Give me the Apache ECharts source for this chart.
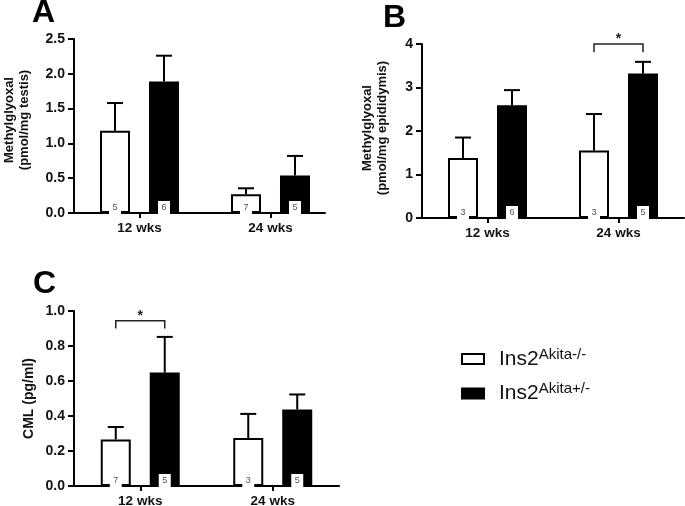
<!DOCTYPE html>
<html>
<head>
<meta charset="utf-8">
<script src="https://cdn.jsdelivr.net/npm/echarts@6/dist/echarts.min.js"></script>
<style>
html,body{margin:0;padding:0;background:#fff;}
#chart{width:685px;height:506px;}
</style>
</head>
<body>
<div id="chart"></div>
<script>
// ---------- data ----------
const categories = ['12 wks', '24 wks'];
const groupNames = ['Ins2 Akita-/-', 'Ins2 Akita+/-'];
const legendBase = ['Ins2', 'Ins2'];
const legendSup = ['Akita-/-', 'Akita+/-'];

// Panel A: Methylglyoxal (pmol/mg testis)
const aWT = [1.18, 0.27];
const aWTUpper = [1.58, 0.355];
const aAk = [1.89, 0.54];
const aAkUpper = [2.26, 0.82];
const aWTn = [5, 7];
const aAkn = [6, 5];

// Panel B: Methylglyoxal (pmol/mg epididymis)
const bWT = [1.38, 1.55];
const bWTUpper = [1.85, 2.39];
const bAk = [2.59, 3.32];
const bAkUpper = [2.94, 3.59];
const bWTn = [3, 3];
const bAkn = [6, 5];

// Panel C: CML (pg/ml)
const cWT = [0.266, 0.274];
const cWTUpper = [0.337, 0.412];
const cAk = [0.648, 0.437];
const cAkUpper = [0.852, 0.523];
const cWTn = [7, 3];
const cAkn = [5, 5];

// significance brackets: [category index, bracket level, drop level]
const sigB = [[1, 4.0, 3.81]];
const sigC = [[0, 0.945, 0.90]];

// axis ranges
const yRangeA = [0, 2.5, 0.5];
const yRangeB = [0, 4, 1];
const yRangeC = [0, 1.0, 0.2];

// ---------- style ----------
const FONT = 'Liberation Sans, Arial, sans-serif';
const BAR_W = 30;
const BAR_GAP = 0.633;
const HALF = BAR_W * (1 + BAR_GAP) / 2;
const CAP = 16;

const chart = echarts.init(document.getElementById('chart'), null, {renderer: 'canvas'});

function yAxis(gridIndex, range, decimals, name, nameGap, nameSize, namePad) {
  return {
    type: 'value', gridIndex: gridIndex, min: range[0], max: range[1], interval: range[2],
    name: name, nameLocation: 'middle', nameGap: nameGap,
    nameTextStyle: {fontWeight: 'bold', fontSize: nameSize, lineHeight: 15, color: '#111', fontFamily: FONT, padding: namePad},
    axisLine: {show: true, lineStyle: {color: '#000', width: 2}},
    axisTick: {show: true, length: 6, lineStyle: {color: '#000', width: 2}},
    axisLabel: {fontWeight: 'bold', fontSize: 14, color: '#111', margin: 9, fontFamily: FONT,
      formatter: v => v.toFixed(decimals)},
    splitLine: {show: false}
  };
}
function xAxis(gridIndex, showLine) {
  return {
    type: 'category', gridIndex: gridIndex, data: categories,
    axisLine: {show: showLine, lineStyle: {color: '#000', width: 2}},
    axisTick: {show: true, alignWithLabel: true, length: 5, lineStyle: {color: '#000', width: 2}},
    axisLabel: {fontWeight: 'bold', fontSize: 13.5, color: '#111', margin: 8, fontFamily: FONT},
    splitLine: {show: false}
  };
}
function barSeries(gridIndex, gi, values, ns) {
  return {
    type: 'bar', name: groupNames[gi], xAxisIndex: gridIndex, yAxisIndex: gridIndex,
    data: values, barWidth: BAR_W, barGap: (BAR_GAP * 100) + '%',
    itemStyle: {color: gi === 0 ? '#fff' : '#000', borderColor: '#000', borderWidth: 2},
    label: {show: true, position: 'insideBottom', distance: -1,
      formatter: p => String(ns[p.dataIndex]),
      backgroundColor: '#fff', width: 8, height: 10, padding: [2, 2, 1, 2], align: 'center',
      fontSize: 9, lineHeight: 10, color: '#555', fontFamily: FONT},
    emphasis: {disabled: true}, silent: true, z: 2
  };
}
function errSeries(gridIndex, wtMean, wtUp, akMean, akUp) {
  const data = [];
  for (let i = 0; i < categories.length; i++) {
    data.push([i, wtMean[i], wtUp[i], 0]);
    data.push([i, akMean[i], akUp[i], 1]);
  }
  return {
    type: 'custom', xAxisIndex: gridIndex, yAxisIndex: gridIndex, data: data, silent: true, z: 3,
    encode: {x: 0, y: [1, 2]},
    renderItem: function (params, api) {
      const x = api.coord([api.value(0), 0])[0] + (api.value(3) ? 1 : -1) * HALF;
      const y0 = api.coord([api.value(0), api.value(1)])[1];
      const y1 = api.coord([api.value(0), api.value(2)])[1];
      const st = {stroke: '#000', lineWidth: 2};
      return {type: 'group', children: [
        {type: 'line', shape: {x1: x, y1: y0, x2: x, y2: y1}, style: st},
        {type: 'line', shape: {x1: x - CAP / 2, y1: y1, x2: x + CAP / 2, y2: y1}, style: st}
      ]};
    }
  };
}
function sigSeries(gridIndex, sig) {
  return {
    type: 'custom', xAxisIndex: gridIndex, yAxisIndex: gridIndex, data: sig, silent: true, z: 4,
    encode: {x: 0, y: [1, 2]},
    renderItem: function (params, api) {
      const cx = api.coord([api.value(0), 0])[0];
      const yt = api.coord([api.value(0), api.value(1)])[1];
      const yd = api.coord([api.value(0), api.value(2)])[1];
      return {type: 'group', children: [
        {type: 'polyline', shape: {points: [[cx - HALF, yd], [cx - HALF, yt], [cx + HALF, yt], [cx + HALF, yd]]},
          style: {stroke: '#222', lineWidth: 1.5, fill: null}},
        {type: 'text', style: {text: '*', x: cx, y: yt - 4.5, align: 'center', verticalAlign: 'middle',
          fontSize: 14, fontWeight: 'bold', fontFamily: FONT, fill: '#222'}}
      ]};
    }
  };
}

const option = {
  animation: false,
  textStyle: {fontFamily: FONT},
  grid: [
    {left: 74, top: 39, width: 262, height: 174, outerBoundsMode: 'none'},
    {left: 422, top: 44, width: 262, height: 174, outerBoundsMode: 'none'},
    {left: 74, top: 311, width: 265, height: 175, outerBoundsMode: 'none'},
    {left: 74, top: 39, width: 251, height: 174, outerBoundsMode: 'none'}
  ],
  xAxis: [
    xAxis(0, false),
    xAxis(1, true),
    xAxis(2, true),
    {type: 'value', gridIndex: 3, min: 0, max: 1,
      axisLine: {show: true, lineStyle: {color: '#000', width: 2}},
      axisTick: {show: false}, axisLabel: {show: false}, splitLine: {show: false}}
  ],
  yAxis: [
    yAxis(0, yRangeA, 1, 'Methylglyoxal\n(pmol/mg testis)', 42, 13, [0, 0, 0, 12]),
    yAxis(1, yRangeB, 0, 'Methylglyoxal\n(pmol/mg epididymis)', 32, 13, [0, 0, 0, 6]),
    yAxis(2, yRangeC, 1, 'CML (pg/ml)', 37, 14, 0),
    {type: 'value', gridIndex: 3, show: false, min: 0, max: 1}
  ],
  legend: {
    orient: 'vertical', left: 461, top: 347, padding: 0, itemGap: 12,
    itemWidth: 22, itemHeight: 10, icon: 'rect', selectedMode: false,
    data: [
      {name: groupNames[0], itemStyle: {color: '#fff', borderColor: '#000', borderWidth: 2}},
      {name: groupNames[1], itemStyle: {color: '#000', borderColor: '#000', borderWidth: 2}}
    ],
    formatter: function (name) {
      const i = groupNames.indexOf(name);
      return '{a|' + legendBase[i] + '}{b|' + legendSup[i] + '}';
    },
    textStyle: {
      padding: [0, 0, 0, 10],
      rich: {
        a: {fontSize: 21, lineHeight: 24, color: '#111', fontFamily: FONT},
        b: {fontSize: 15, lineHeight: 15, verticalAlign: 'top', color: '#111', fontFamily: FONT}
      }
    }
  },
  graphic: [
    {type: 'text', left: 32, top: -3, style: {text: 'A', fontSize: 32, fontWeight: 'bold', fontFamily: FONT, fill: '#000'}},
    {type: 'text', left: 383, top: 2, style: {text: 'B', fontSize: 32, fontWeight: 'bold', fontFamily: FONT, fill: '#000'}},
    {type: 'text', left: 33, top: 268, style: {text: 'C', fontSize: 32, fontWeight: 'bold', fontFamily: FONT, fill: '#000'}}
  ],
  series: [
    barSeries(0, 0, aWT, aWTn),
    barSeries(0, 1, aAk, aAkn),
    errSeries(0, aWT, aWTUpper, aAk, aAkUpper),
    barSeries(1, 0, bWT, bWTn),
    barSeries(1, 1, bAk, bAkn),
    errSeries(1, bWT, bWTUpper, bAk, bAkUpper),
    sigSeries(1, sigB),
    barSeries(2, 0, cWT, cWTn),
    barSeries(2, 1, cAk, cAkn),
    errSeries(2, cWT, cWTUpper, cAk, cAkUpper),
    sigSeries(2, sigC)
  ]
};
chart.setOption(option);
</script>
</body>
</html>
